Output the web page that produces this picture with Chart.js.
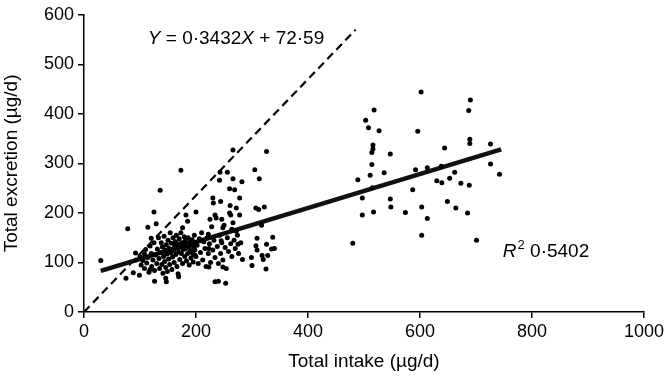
<!DOCTYPE html>
<html>
<head>
<meta charset="utf-8">
<script src="https://cdn.jsdelivr.net/npm/chart.js@4.4.0/dist/chart.umd.min.js"></script>
<style>
  html, body { margin: 0; padding: 0; background: #fff; }
  #wrap { width: 667px; height: 377px; }
</style>
</head>
<body>
<div id="wrap"><canvas id="scatterChart"></canvas></div>
<script>
// tick values
var xTicks = [0, 200, 400, 600, 800, 1000];
var yTicks = [0, 100, 200, 300, 400, 500, 600];

// low intake group [intake, excretion]
var lowGroup = [
  [30,104],[78,168],[75,68],[92,119],[88,79],[99,74],[93,105],[108,117],[114,171],[118,86],
  [125,202],[129,178],[136,246],[126,62],[120,149],[147,61],[146,68],[173,286],[169,71],[168,77],
  [176,170],[185,183],[182,196],[200,202],[198,115],[209,144],[223,128],[223,91],[222,157],[225,187],
  [230,230],[231,220],[234,196],[234,61],[240,62],[243,282],[242,266],[244,223],[246,187],[248,170],
  [245,144],[248,91],[253,58],[256,282],[260,249],[261,215],[262,196],[264,167],[266,269],[266,327],
  [269,247],[272,163],[275,137],[278,196],[282,263],[283,106],[299,110],[300,94],[305,287],[307,210],
  [309,149],[307,134],[309,125],[313,269],[312,207],[317,175],[318,114],[320,106],[322,212],[325,87],
  [326,324],[326,137],[328,114],[337,151],[335,127],[340,128],
  [100,112],[102,95],[105,104],[108,88],[110,126],[112,99],[114,110],[116,80],[118,133],[120,118],
  [121,92],[123,105],[125,140],[126,84],[128,115],[130,98],[131,127],[133,150],[134,108],[135,88],
  [137,120],[138,140],[139,96],[140,131],[141,78],[142,112],[143,153],[144,102],[145,125],[146,90],
  [147,136],[148,117],[149,82],[150,145],[151,107],[152,128],[153,96],[154,160],[155,119],[156,139],
  [157,86],[158,111],[159,150],[160,124],[161,100],[162,133],[163,142],[164,116],[165,155],[166,92],
  [167,129],[168,138],[169,121],[170,148],[171,106],[172,131],[173,160],[174,118],[175,140],[176,98],
  [177,126],[178,135],[179,152],[180,112],[181,144],[182,128],[183,103],[184,137],[185,118],[186,150],
  [187,132],[188,95],[189,141],[190,124],[191,109],[192,136],[193,146],[194,118],[195,101],[196,130],
  [197,155],[198,125],[199,140],[200,112],
  [202,135],[204,98],[206,148],[208,120],[210,160],[212,105],[214,142],[216,128],[218,92],[220,150],
  [222,118],[224,138],[226,100],[228,172],[230,125],[232,145],[234,110],[236,190],[238,132],[240,98],
  [242,155],[244,118],[246,140],[248,105],[250,175],[252,130],[254,88],[256,150],[258,122],[260,200],
  [262,138],[264,112],[266,180],[268,145],[270,128],[272,210],[274,155],[276,118],[278,230],[280,140]
];

// high intake group [intake, excretion]
var highGroup = [
  [480,139],[489,267],[497,230],[497,196],[503,387],[508,372],[518,408],[527,366],[511,276],[514,298],
  [514,322],[516,329],[516,337],[515,251],[517,202],[536,281],[547,319],[547,228],[548,212],[574,201],
  [587,247],[596,365],[592,287],[602,444],[603,212],[603,155],[613,291],[613,189],[630,265],[639,261],
  [638,294],[644,331],[649,223],[653,270],[662,282],[664,210],[673,260],[685,200],[688,256],[687,407],
  [690,428],[689,349],[689,340],[701,145],[726,339],[726,299],[742,278]
];

// regression Y = 0.3432X + 72.59, ends of the fitted range
var fitX = [30, 745];
var fitY = [82.9, 328.3];

// dashed reference line ends
var refX = [0, 485];
var refY = [0, 570];

function toPoints(list) {
  return list.map(function (p) { return { x: p[0], y: p[1] }; });
}

function pairUp(xs, ys) {
  return xs.map(function (x, i) { return { x: x, y: ys[i] }; });
}

// draws equation and R2 labels at data positions
var labelPlugin = {
  id: 'labels',
  afterDraw: function (chart) {
    var ctx = chart.ctx;
    var xs = chart.scales.x;
    var ys = chart.scales.y;
    ctx.save();
    ctx.fillStyle = '#000';
    ctx.textBaseline = 'alphabetic';

    var parts = [
      ['italic 19px "Liberation Sans"', 'Y'],
      ['19px "Liberation Sans"', ' = 0·3432'],
      ['italic 19px "Liberation Sans"', 'X'],
      ['19px "Liberation Sans"', ' + 72·59']
    ];
    var px = xs.getPixelForValue(114);
    var py = ys.getPixelForValue(541);
    parts.forEach(function (p) {
      ctx.font = p[0];
      ctx.fillText(p[1], px, py);
      px += ctx.measureText(p[1]).width;
    });

    px = xs.getPixelForValue(748);
    py = ys.getPixelForValue(112);
    ctx.font = 'italic 19px "Liberation Sans"';
    ctx.fillText('R', px, py);
    px += ctx.measureText('R').width + 1;
    ctx.font = '13px "Liberation Sans"';
    ctx.fillText('2', px, py - 8);
    px += ctx.measureText('2').width;
    ctx.font = '19px "Liberation Sans"';
    ctx.fillText(' 0·5402', px, py);
    ctx.restore();
  }
};

var ctx = document.getElementById("scatterChart").getContext('2d');
var myChart = new Chart(ctx, {
  type: 'scatter',
  data: {
    datasets: [{
      data: toPoints(lowGroup),
      backgroundColor: '#000',
      borderWidth: 0,
      pointRadius: 2.5
    }, {
      data: toPoints(highGroup),
      backgroundColor: '#000',
      borderWidth: 0,
      pointRadius: 2.5
    }, {
      type: 'line',
      data: pairUp(fitX, fitY),
      borderColor: '#111',
      borderWidth: 4.5,
      pointRadius: 0,
      fill: false
    }, {
      type: 'line',
      data: pairUp(refX, refY),
      borderColor: '#000',
      borderWidth: 2.2,
      borderDash: [8, 5],
      pointRadius: 0,
      fill: false
    }]
  },
  options: {
    responsive: true,
    maintainAspectRatio: false,
    animation: false,
    layout: { padding: { left: 0, right: 21, top: 10, bottom: 4 } },
    plugins: {
      legend: { display: false },
      tooltip: { enabled: false }
    },
    scales: {
      x: {
        type: 'linear',
        min: 0,
        max: 1000,
        afterBuildTicks: function (scale) {
          scale.ticks = xTicks.map(function (v) { return { value: v }; });
        },
        afterFit: function (scale) { scale.height = 61; },
        border: { color: '#000', width: 1.5 },
        grid: { drawOnChartArea: false, drawTicks: true, tickLength: 6, color: '#000', lineWidth: 1.5 },
        ticks: {
          color: '#000',
          padding: 3,
          maxRotation: 0,
          font: { family: 'Liberation Sans', size: 18 },
          callback: function (v) { return String(v); }
        },
        title: {
          display: true,
          text: 'Total intake (µg/d)',
          color: '#000',
          padding: { top: 8, bottom: 0 },
          font: { family: 'Liberation Sans', size: 19 }
        }
      },
      y: {
        type: 'linear',
        min: 0,
        max: 600,
        afterBuildTicks: function (scale) {
          scale.ticks = yTicks.map(function (v) { return { value: v }; });
        },
        afterFit: function (scale) { scale.width = 84; },
        border: { color: '#000', width: 1.5 },
        grid: { drawOnChartArea: false, drawTicks: true, tickLength: 6, color: '#000', lineWidth: 1.5 },
        ticks: {
          color: '#000',
          padding: 4,
          font: { family: 'Liberation Sans', size: 18 },
          callback: function (v) { return String(v); }
        },
        title: {
          display: true,
          text: 'Total excretion (µg/d)',
          color: '#000',
          padding: { top: 0, bottom: 0 },
          font: { family: 'Liberation Sans', size: 19 }
        }
      }
    }
  },
  plugins: [labelPlugin]
});
</script>
</body>
</html>
